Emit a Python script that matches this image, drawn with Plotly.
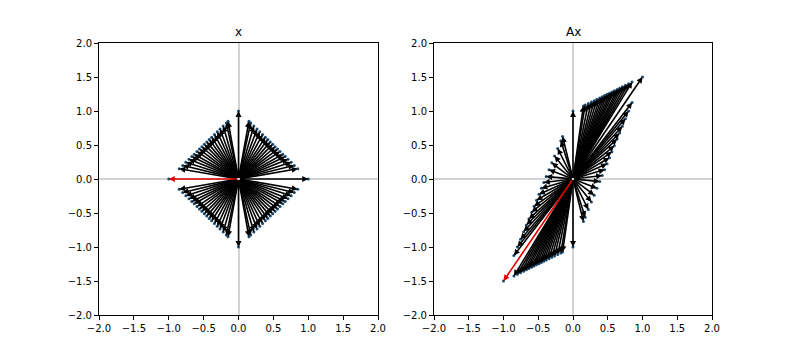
import numpy as np
import plotly.graph_objects as go

# Points on the L1 unit "diamond" (x vectors)
q1_x = [0.85, 0.80, 0.755, 0.71, 0.67, 0.635, 0.595, 0.56, 0.525, 0.49, 0.455, 0.42, 0.385, 0.345, 0.305, 0.265, 0.22, 0.175, 0.15]
q1_y = [0.15, 0.20, 0.245, 0.29, 0.33, 0.365, 0.405, 0.44, 0.475, 0.51, 0.545, 0.58, 0.615, 0.655, 0.695, 0.735, 0.78, 0.825, 0.85]
q2_x = [-0.85, -0.80, -0.755, -0.71, -0.67, -0.635, -0.595, -0.56, -0.525, -0.49, -0.455, -0.42, -0.385, -0.345, -0.305, -0.265, -0.22, -0.175, -0.15]
q2_y = [0.15, 0.20, 0.245, 0.29, 0.33, 0.365, 0.405, 0.44, 0.475, 0.51, 0.545, 0.58, 0.615, 0.655, 0.695, 0.735, 0.78, 0.825, 0.85]
q3_x = [-0.85, -0.80, -0.755, -0.71, -0.67, -0.635, -0.595, -0.56, -0.525, -0.49, -0.455, -0.42, -0.385, -0.345, -0.305, -0.265, -0.22, -0.175, -0.15]
q3_y = [-0.15, -0.20, -0.245, -0.29, -0.33, -0.365, -0.405, -0.44, -0.475, -0.51, -0.545, -0.58, -0.615, -0.655, -0.695, -0.735, -0.78, -0.825, -0.85]
q4_x = [0.85, 0.80, 0.755, 0.71, 0.67, 0.635, 0.595, 0.56, 0.525, 0.49, 0.455, 0.42, 0.385, 0.345, 0.305, 0.265, 0.22, 0.175, 0.15]
q4_y = [-0.15, -0.20, -0.245, -0.29, -0.33, -0.365, -0.405, -0.44, -0.475, -0.51, -0.545, -0.58, -0.615, -0.655, -0.695, -0.735, -0.78, -0.825, -0.85]
axis_x = [1.0, 0.0, 0.0]
axis_y = [0.0, 1.0, -1.0]
red_x = [-1.0]
red_y = [0.0]

# Linear map A
A = [[1.0, 0.0],
     [1.5, 1.0]]

tick_vals = [-2.0, -1.5, -1.0, -0.5, 0.0, 0.5, 1.0, 1.5, 2.0]
tick_text = ["\u22122.0", "\u22121.5", "\u22121.0", "\u22120.5", "0.0", "0.5", "1.0", "1.5", "2.0"]
titles = ["x", "Ax"]

black_x = np.array(q1_x + q2_x + q3_x + q4_x + axis_x)
black_y = np.array(q1_y + q2_y + q3_y + q4_y + axis_y)
rx = np.array(red_x)
ry = np.array(red_y)

def apply(Am, x, y):
    return Am[0][0] * x + Am[0][1] * y, Am[1][0] * x + Am[1][1] * y

sets = [
    (black_x, black_y, rx, ry),
    (*apply(A, black_x, black_y), *apply(A, rx, ry)),
]

fig = go.Figure()
annotations = []
axes = [("x", "y"), ("x2", "y2")]
for (bx, by, rrx, rry), (xa, ya) in zip(sets, axes):
    allx = np.concatenate([bx, rrx])
    ally = np.concatenate([by, rry])
    fig.add_trace(go.Scatter(x=allx, y=ally, mode="markers", xaxis=xa, yaxis=ya,
                             marker=dict(color="#1a4a70", size=3), showlegend=False,
                             hoverinfo="skip"))
    for px, py in zip(bx, by):
        annotations.append(dict(x=float(px), y=float(py), ax=0, ay=0, xref=xa, yref=ya,
                                axref=xa, ayref=ya, showarrow=True, text="",
                                arrowhead=2, arrowsize=0.75, arrowwidth=1.6,
                                arrowcolor="black", standoff=0, startstandoff=0))
    for px, py in zip(rrx, rry):
        annotations.append(dict(x=float(px), y=float(py), ax=0, ay=0, xref=xa, yref=ya,
                                axref=xa, ayref=ya, showarrow=True, text="",
                                arrowhead=2, arrowsize=0.75, arrowwidth=1.6,
                                arrowcolor="#e00000", standoff=0, startstandoff=0))

# plot area on screen: left 99, right 712, top 43, bottom 315 (page has 8px body offset)
x_domains = [[0.0, 279 / 613], [335 / 613, 1.0]]
y_domain = [0.0, 1.0]

for i, (xa, ya) in enumerate(axes):
    ax_common = dict(range=[-2, 2], tickvals=tick_vals, ticktext=tick_text,
                     showgrid=False, zeroline=True, zerolinecolor="#d3d3d3", zerolinewidth=2,
                     showline=True, mirror=True, linecolor="black", linewidth=1,
                     ticks="outside", ticklen=4, tickcolor="black", automargin=False,
                     tickfont=dict(family="DejaVu Sans", size=10, color="black"))
    xkey = "xaxis" if i == 0 else "xaxis2"
    ykey = "yaxis" if i == 0 else "yaxis2"
    fig.update_layout(**{
        xkey: dict(domain=x_domains[i], anchor=ya, **ax_common),
        ykey: dict(domain=y_domain, anchor=xa, **ax_common),
    })
    annotations.append(dict(x=(x_domains[i][0] + x_domains[i][1]) / 2, y=1.0,
                            xref="paper", yref="paper", text=titles[i], showarrow=False,
                            xanchor="center", yanchor="bottom", yshift=2,
                            font=dict(family="DejaVu Sans", size=12, color="black")))

fig.update_layout(width=792, height=360, margin=dict(l=91, r=88, t=35, b=53),
                  plot_bgcolor="white", paper_bgcolor="white",
                  annotations=annotations, showlegend=False)

fig.write_html("out.html")
